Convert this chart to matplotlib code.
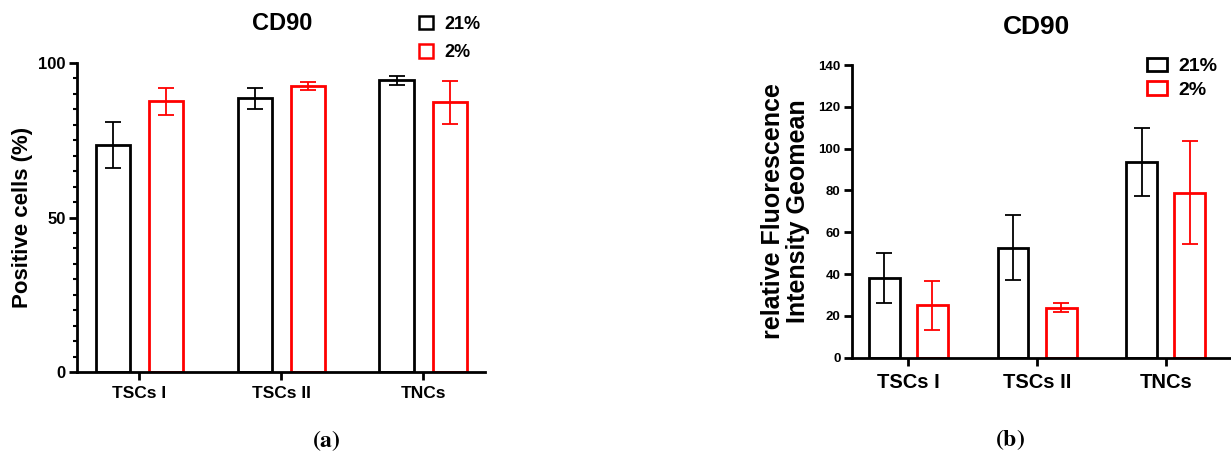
import matplotlib

matplotlib.use("Agg")
import matplotlib.pyplot as plt
from matplotlib.patches import Patch
import numpy as np

plt.rcParams["font.family"] = ["Liberation Sans", "DejaVu Sans"]
plt.rcParams["font.weight"] = "bold"
plt.rcParams["mathtext.fontset"] = "stix"

groups = ["TSCs I", "TSCs II", "TNCs"]
series = ["21%", "2%"]
colors = ["black", "#ff0000"]

# panel a: positive cells (%)
pos_mean = [[73.5, 88.6, 94.4], [87.6, 92.6, 87.3]]
pos_err = [[7.5, 3.4, 1.5], [4.3, 1.4, 7.0]]

# panel b: relative fluorescence intensity (geomean)
mfi_mean = [[38.0, 52.6, 93.5], [25.1, 23.9, 78.9]]
mfi_err = [[12.0, 15.6, 16.2], [11.7, 2.2, 24.6]]

W, H = 1231, 454
fig = plt.figure(figsize=(W / 100, H / 100), dpi=100)


def fx(px):
    return px / W


def fy(py):
    return 1 - py / H


def draw_panel(ax, means, errs, tick_fs, xpad):
    x = np.arange(len(groups))
    width = 0.24
    offs = [-0.187, 0.187]
    for i, c in enumerate(colors):
        ax.bar(x + offs[i], means[i], width, facecolor="white", edgecolor=c,
               linewidth=2.0, zorder=2)
        ax.errorbar(x + offs[i], means[i], yerr=errs[i], fmt="none", ecolor=c,
                    elinewidth=1.3, capsize=6, capthick=1.3, zorder=3)
    ax.set_xticks(x)
    ax.set_xticklabels(groups, fontsize=tick_fs, fontweight="bold")
    for s in ["top", "right"]:
        ax.spines[s].set_visible(False)
    for s in ["left", "bottom"]:
        ax.spines[s].set_linewidth(2.0)
    ax.tick_params(axis="x", length=6, width=2.0, pad=xpad)
    ax.tick_params(axis="y", which="major", length=6, width=2.0, pad=2)
    ax.tick_params(axis="y", which="minor", length=3, width=1.5)


# (a)
ax1 = fig.add_axes([fx(77), fy(372), fx(485 - 77), (372 - 63) / H])
draw_panel(ax1, pos_mean, pos_err, 12.5, 4)
ax1.set_xlim(-0.44, 2.437)
ax1.set_ylim(0, 100)
ax1.set_yticks([0, 50, 100])
ax1.set_yticks(np.arange(0, 101, 5), minor=True)
ax1.tick_params(axis="y", labelsize=12)
for t in ax1.get_yticklabels():
    t.set_fontweight("bold")
ax1.set_ylabel("Positive cells (%)", fontsize=16, fontweight="bold", labelpad=4)
fig.text(fx(282), fy(23), "CD90", fontsize=17, fontweight="bold",
         ha="center", va="center")

h1 = [Patch(facecolor="white", edgecolor=c, linewidth=1.8) for c in colors]
ax1.legend(h1, series, loc="upper left", bbox_to_anchor=(fx(410), fy(7)),
           bbox_transform=fig.transFigure, frameon=False,
           borderpad=0, handlelength=0.8, handleheight=0.75,
           handletextpad=0.6, labelspacing=0.62, prop={"weight": "bold", "size": 13})

# (b)
ax2 = fig.add_axes([fx(851.7), fy(357.7), 1 - fx(851.7), (357.7 - 65) / H])
draw_panel(ax2, mfi_mean, mfi_err, 14.5, 5)
ax2.set_xlim(-0.44, 2.507)
ax2.set_ylim(0, 140)
ax2.set_yticks(np.arange(0, 141, 20))
ax2.tick_params(axis="y", labelsize=9.5)
for t in ax2.get_yticklabels():
    t.set_fontweight("bold")
ax2.set_ylabel("relative Fluorescence\nIntensity Geomean", fontsize=18,
               fontweight="bold", labelpad=6, linespacing=1.05)
fig.text(fx(1037), fy(27), "CD90", fontsize=19, fontweight="bold",
         ha="center", va="center")

h2 = [Patch(facecolor="white", edgecolor=c, linewidth=2.0) for c in colors]
ax2.legend(h2, series, loc="upper left", bbox_to_anchor=(fx(1137), fy(48)),
           bbox_transform=fig.transFigure, frameon=False,
           borderpad=0, handlelength=1.05, handleheight=0.7,
           handletextpad=0.6, labelspacing=0.3, prop={"weight": "bold", "size": 14})

fig.text(fx(326), fy(441), r"$(\mathbf{a})$", fontsize=17, ha="center", va="center")
fig.text(fx(1010), fy(440), r"$(\mathbf{b})$", fontsize=17, ha="center", va="center")

fig.savefig("out.png", dpi=100)
